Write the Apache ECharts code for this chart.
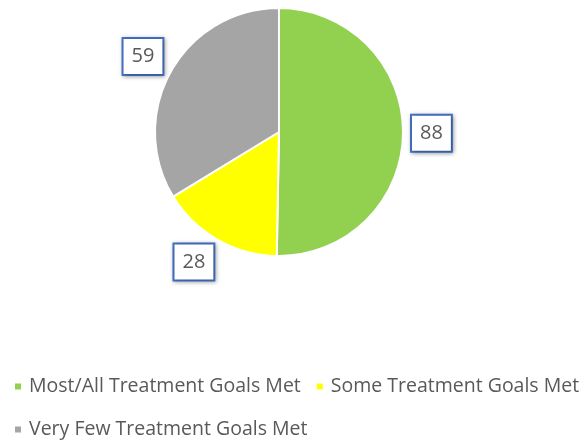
<!DOCTYPE html>
<html>
<head>
<meta charset="utf-8">
<script src="https://cdn.jsdelivr.net/npm/echarts@6/dist/echarts.min.js"></script>
<style>
  html, body { margin: 0; padding: 0; background: #fff; }
  #chart { width: 584px; height: 440px; }
</style>
</head>
<body>
<div id="chart"></div>
<script>
// Treatment outcome counts
const categories = ['Most/All Treatment Goals Met', 'Some Treatment Goals Met', 'Very Few Treatment Goals Met'];
const counts = [88, 28, 59];
const sliceColors = ['#92d050', '#ffff00', '#a5a5a5'];

// Fine nudges for the boxed value labels (px), per slice
const labelNudgeX = [-3, 2, 2];
const labelNudgeY = [0, 12, -9];

const chart = echarts.init(document.getElementById('chart'), null, { renderer: 'canvas' });

const FONT = '"Open Sans", Lato, sans-serif';
const TEXT = '#595959';

chart.setOption({
  animation: false,
  backgroundColor: '#ffffff',
  color: sliceColors,
  legend: {
    left: 8,
    top: 367,
    width: 600,
    orient: 'horizontal',
    icon: 'rect',
    itemWidth: 8,
    itemHeight: 8,
    itemGap: 14,
    textStyle: { fontFamily: FONT, fontSize: 19.5, color: TEXT, lineHeight: 29, padding: [0, 0, 0, 2] },
    data: categories
  },
  series: [{
    type: 'pie',
    center: [279, 132],
    radius: 124,
    startAngle: 90,
    clockwise: true,
    avoidLabelOverlap: false,
    itemStyle: { borderColor: '#ffffff', borderWidth: 2 },
    label: {
      show: true,
      position: 'outside',
      distanceToLabelLine: 0,
      formatter: '{c}',
      fontFamily: FONT,
      fontSize: 20,
      lineHeight: 23,
      color: TEXT,
      backgroundColor: '#ffffff',
      borderColor: '#4472c4',
      borderWidth: 2,
      padding: [6, 8],
      shadowColor: 'rgba(0,0,0,0.3)',
      shadowBlur: 4,
      shadowOffsetX: 1,
      shadowOffsetY: 1
    },
    labelLine: { show: false, length: 12, length2: 0 },
    labelLayout: function (p) {
      return { dx: labelNudgeX[p.dataIndex], dy: labelNudgeY[p.dataIndex] };
    },
    emphasis: { disabled: true },
    data: categories.map((name, i) => ({ name: name, value: counts[i] }))
  }]
});
</script>
</body>
</html>
